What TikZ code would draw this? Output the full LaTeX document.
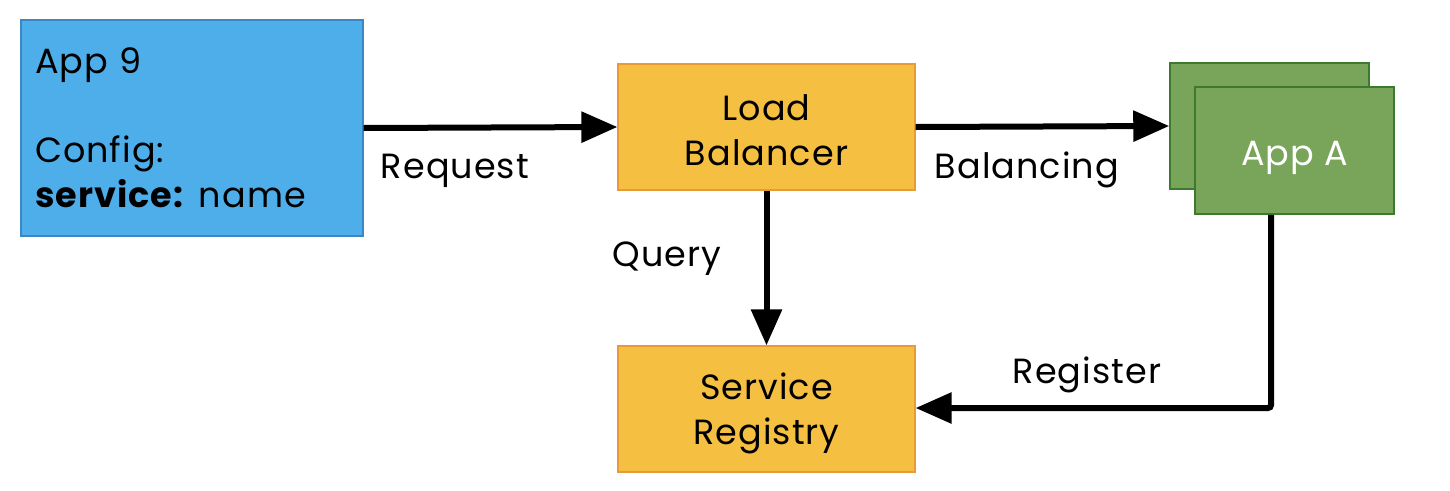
\documentclass[tikz,border=0pt]{standalone}
\usepackage{fontspec}
\setmainfont{Poppins}[LetterSpace=3]
\usetikzlibrary{arrows.meta}
\definecolor{appblue}{HTML}{4DAEE9}
\definecolor{appblueb}{HTML}{3C86C6}
\definecolor{lbfill}{HTML}{F5BF42}
\definecolor{lbdraw}{HTML}{E8993A}
\definecolor{grfill}{HTML}{79A55B}
\definecolor{grdraw}{HTML}{3D7A30}
\tikzset{
  basefont/.style={font=\fontsize{35}{45}\selectfont},
  bluebox/.style={basefont, draw=appblueb, fill=appblue, line width=1.2pt, inner sep=0pt},
  orbox/.style={draw=lbdraw, fill=lbfill, line width=1.2pt, minimum width=297pt, minimum height=126pt, inner sep=0pt},
  grbox/.style={draw=grdraw, fill=grfill, line width=1.5pt, minimum width=199pt, minimum height=126pt, inner sep=0pt},
  boxtext/.style={basefont, align=center, inner sep=0pt},
  conn/.style={line width=6pt, -{Triangle[length=36pt,width=30pt]}},
  lbl/.style={basefont, anchor=base, inner sep=0pt}
}
\begin{document}
\begin{tikzpicture}[x=1pt,y=-1pt]
\useasboundingbox (0,0) rectangle (1450,490);
\node[bluebox, minimum width=342pt, minimum height=216pt, text width=314pt, align=left] (app9) at (192,128)
  {App 9\\[44pt]Config:\\\textbf{service:}\hspace{-3pt} name};
\node[orbox] (lb) at (766.5,127) {};
\node[boxtext] (lbt) at (766.5,130) {Load\\Balancer};
\node[orbox] (sr) at (766.5,409) {};
\node[boxtext] (srt) at (766.5,413) {Service\\Registry};
\node[grbox] (appb) at (1269.5,126) {};
\node[grbox, minimum height=127pt] (appa) at (1294.5,150.5) {};
\node[lbl, text=white] (appat) at (1294.5,165) {App A};
\coordinate (c1) at (1271,408);
\draw[conn] (app9.east |- 0,128) -- (lb.west);
\draw[conn] (lb.east) -- (appb.west);
\draw[conn] (lb.south) -- (sr.north);
\draw[conn, rounded corners=3pt] (appa.south -| 1271,0) -- (c1) -- (sr.east |- c1);
\node[lbl] (lreq) at (455,178) {Request};
\node[lbl] (lbal) at (1027,178) {Balancing};
\node[lbl] (lq) at (667,266) {Query};
\node[lbl] (lreg) at (1087,383) {Register};
\end{tikzpicture}
\end{document}
